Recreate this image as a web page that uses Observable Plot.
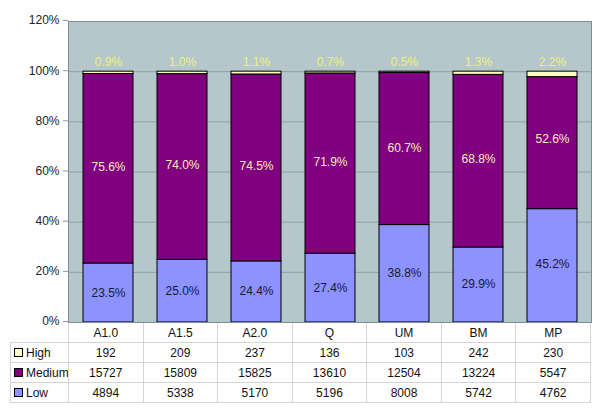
<!DOCTYPE html>
<html><head><meta charset="utf-8">
<script src="https://cdn.jsdelivr.net/npm/d3@7"></script>
<script src="https://cdn.jsdelivr.net/npm/@observablehq/plot@0.6"></script>
<style>
body{margin:0;background:#fff;font-family:"Liberation Sans",Arial,sans-serif;}
#chart svg{display:block;overflow:visible}
table{border-collapse:collapse;table-layout:fixed;margin-left:10px;width:581px;font-size:12px;color:#111}
td{border:1px solid #d4d4d4;text-align:center;height:19px;padding:0;white-space:nowrap;overflow:hidden}
td.lab{text-align:left;padding-left:3px}
tr.head td{border-top:none;height:19px}
tr.head td:first-child{border:none;border-right:1px solid #d4d4d4}
.sw{display:inline-block;width:7px;height:7px;border:1px solid #000;margin-right:3px;vertical-align:0px}
</style>
</head><body>
<div id="chart"></div>
<script>
const categories = ["A1.0","A1.5","A2.0","Q","UM","BM","MP"];
const levels = ["Low","Medium","High"];
const highCounts = [192,209,237,136,103,242,230];
const mediumCounts = [15727,15809,15825,13610,12504,13224,5547];
const lowCounts = [4894,5338,5170,5196,8008,5742,4762];
const yTicks = [0,0.2,0.4,0.6,0.8,1.0,1.2];
const colors = {Low:"#8c92ff", Medium:"#800080", High:"#ffffc4"};
const labelColors = {Low:"#1a1a2e", Medium:"#f4f0b8", High:"#eef07a"};

const countsBy = {Low: lowCounts, Medium: mediumCounts, High: highCounts};
const data = [];
categories.forEach((c, i) => {
  levels.forEach(l => data.push({cat: c, level: l, count: countsBy[l][i]}));
});
const totals = {};
categories.forEach((c, i) => totals[c] = lowCounts[i] + mediumCounts[i] + highCounts[i]);
const pct = d => (d.count / totals[d.cat] * 100).toFixed(1) + "%";

const stackOpts = {x: "cat", y: "count", z: "level", order: levels, offset: "normalize"};

const chart = Plot.plot({
  width: 600,
  height: 323,
  marginTop: 21,
  marginBottom: 1,
  marginLeft: 68,
  marginRight: 9,
  style: {fontFamily: '"Liberation Sans", Arial, sans-serif', fontSize: "12px", background: "#fff", overflow: "visible"},
  x: {domain: categories, paddingInner: 0.33, paddingOuter: 0.165, axis: null},
  y: {domain: [0, 1.2], axis: null, label: null},
  color: {domain: levels, range: levels.map(l => colors[l])},
  marks: [
    Plot.frame({fill: "#b5c7cb"}),
    Plot.ruleY(yTicks, {stroke: "#8fa1a6", strokeWidth: 1}),
    Plot.axisY(yTicks, {tickFormat: d3.format(".0%"), tickSize: 5, tickPadding: 4, stroke: "#8a9a9e", fill: "#222", fontSize: 12, label: null, dy: -1}),
    Plot.barY(data, {...stackOpts, fill: "level", stroke: "#000", strokeWidth: 1}),
    Plot.text(data.filter(d => d.level !== "High"), Plot.stackY({...stackOpts, order: ["Low","Medium"], text: pct, fill: d => labelColors[d.level], fontSize: 12})),
    Plot.text(data, Plot.stackY2({...stackOpts, text: d => d.level === "High" ? pct(d) : null, fill: labelColors.High, dy: -10, fontSize: 12})),
    Plot.frame({stroke: "#7d8e93", strokeWidth: 1})
  ]
});
document.getElementById("chart").append(chart);

// data table under the chart
const table = document.createElement("table");
const colgroup = document.createElement("colgroup");
const c0 = document.createElement("col"); c0.style.width = "58px"; colgroup.append(c0);
categories.forEach(() => colgroup.append(document.createElement("col")));
table.append(colgroup);
const head = document.createElement("tr"); head.className = "head";
head.append(document.createElement("td"));
categories.forEach(c => { const td = document.createElement("td"); td.textContent = c; head.append(td); });
table.append(head);
["High","Medium","Low"].forEach(l => {
  const tr = document.createElement("tr");
  const lab = document.createElement("td"); lab.className = "lab";
  const sw = document.createElement("span"); sw.className = "sw"; sw.style.background = colors[l];
  lab.append(sw, document.createTextNode(l));
  tr.append(lab);
  countsBy[l].forEach(v => { const td = document.createElement("td"); td.textContent = v; tr.append(td); });
  table.append(tr);
});
document.body.append(table);
</script>
</body></html>
